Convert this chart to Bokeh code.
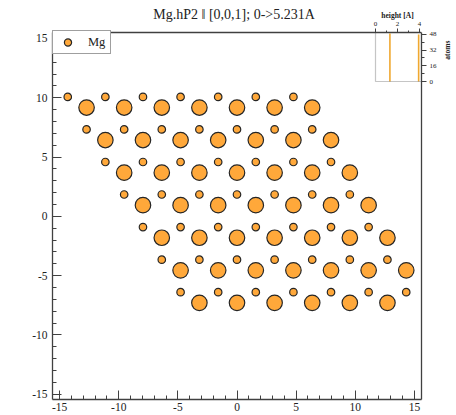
from bokeh.plotting import figure
from bokeh.models import (Range1d, LinearAxis, FixedTicker, BoxAnnotation, Label, Span,
                          Legend, LegendItem, SingleIntervalTicker, PrintfTickFormatter)
from bokeh.core.properties import value
from bokeh.embed import file_html
from bokeh.resources import INLINE

# ---------------- data ----------------
title_text = "Mg.hP2 \u2016  [0,0,1]; 0->5.231A"
element = "Mg"

# atoms at the lower height (drawn small)
low_x = [-14.31, -11.13, -7.95, -4.77, -1.59, 1.59, 4.77,
         -12.72, -9.54, -6.36, -3.18, 0.00, 3.18, 6.36,
         -11.13, -7.95, -4.77, -1.59, 1.59, 4.77, 7.95,
         -9.54, -6.36, -3.18, 0.00, 3.18, 6.36, 9.54,
         -7.95, -4.77, -1.59, 1.59, 4.77, 7.95, 11.13,
         -6.36, -3.18, 0.00, 3.18, 6.36, 9.54, 12.72,
         -4.77, -1.59, 1.59, 4.77, 7.95, 11.13, 14.31]
low_y = [10.07, 10.07, 10.07, 10.07, 10.07, 10.07, 10.07,
         7.33, 7.33, 7.33, 7.33, 7.33, 7.33, 7.33,
         4.58, 4.58, 4.58, 4.58, 4.58, 4.58, 4.58,
         1.84, 1.84, 1.84, 1.84, 1.84, 1.84, 1.84,
         -0.91, -0.91, -0.91, -0.91, -0.91, -0.91, -0.91,
         -3.66, -3.66, -3.66, -3.66, -3.66, -3.66, -3.66,
         -6.40, -6.40, -6.40, -6.40, -6.40, -6.40, -6.40]

# atoms at the upper height (drawn large)
high_x = [-12.72, -9.54, -6.36, -3.18, 0.00, 3.18, 6.36,
          -11.13, -7.95, -4.77, -1.59, 1.59, 4.77, 7.95,
          -9.54, -6.36, -3.18, 0.00, 3.18, 6.36, 9.54,
          -7.95, -4.77, -1.59, 1.59, 4.77, 7.95, 11.13,
          -6.36, -3.18, 0.00, 3.18, 6.36, 9.54, 12.72,
          -4.77, -1.59, 1.59, 4.77, 7.95, 11.13, 14.31,
          -3.18, 0.00, 3.18, 6.36, 9.54, 12.72]
high_y = [9.17, 9.17, 9.17, 9.17, 9.17, 9.17, 9.17,
          6.43, 6.43, 6.43, 6.43, 6.43, 6.43, 6.43,
          3.68, 3.68, 3.68, 3.68, 3.68, 3.68, 3.68,
          0.94, 0.94, 0.94, 0.94, 0.94, 0.94, 0.94,
          -1.81, -1.81, -1.81, -1.81, -1.81, -1.81, -1.81,
          -4.56, -4.56, -4.56, -4.56, -4.56, -4.56, -4.56,
          -7.30, -7.30, -7.30, -7.30, -7.30, -7.30]

# height histogram (inset)
layer_heights = [1.31, 3.92]
layer_counts = [49, 48]
height_ticks = [0, 2, 4]
height_tick_labels = ["0", "2", "4"]
height_minor = [1, 3]
count_ticks = [0, 16, 32, 48]
count_minor = [8, 24, 40]
height_label = "height [A]"
count_label = "atoms"

# ---------------- styling / layout ----------------
FONT = "Liberation Serif"
ORANGE = "#FFA83A"
EDGE = "#262626"
FRAME = "#404040"
LINE_ORANGE = "#F0A830"
TXT = "#222222"

# canvas pixel geometry of the reference
BOX_L, BOX_R, BOX_T, BOX_B, FRAME_T = 52, 421, 32, 399, 2
FW, FH = BOX_R - BOX_L, BOX_B - FRAME_T
X0, X1 = -15.6, 15.6          # main x range
Y0, Y1 = -15.45, 15.5         # main y range at the box bottom / top
sy = (BOX_B - BOX_T) / (Y1 - Y0)  # px per y unit
y_frame_top = Y1 + (BOX_T - FRAME_T) / sy

p = figure(frame_width=FW, frame_height=FH,
           x_range=Range1d(X0, X1), y_range=Range1d(Y0, y_frame_top),
           output_backend="svg", toolbar_location=None,
           min_border_left=BOX_L, min_border_right=456 - BOX_R,
           min_border_top=FRAME_T, min_border_bottom=415 - BOX_B,
           background_fill_color="white", border_fill_color="white")
p.grid.visible = False
p.outline_line_color = None

for ax in (p.below[0], p.left[0]):
    ax.ticker = SingleIntervalTicker(interval=5, num_minor_ticks=5)
    ax.formatter = PrintfTickFormatter(format="%d")
    ax.major_tick_in = 9
    ax.major_tick_out = 0
    ax.minor_tick_in = 4
    ax.minor_tick_out = 0
    ax.axis_line_color = FRAME
    ax.axis_line_width = 1.3
    ax.major_tick_line_color = FRAME
    ax.minor_tick_line_color = FRAME
    ax.major_label_text_font = FONT
    ax.major_label_text_font_size = "11.5px"
    ax.major_label_text_color = TXT
p.left[0].bounds = (Y0, Y1)
p.below[0].major_label_standoff = 3
p.left[0].major_label_standoff = 5

# top edge of the plot box
p.add_layout(Span(location=Y1, dimension="width", line_color=FRAME, line_width=1.3))

# atoms
r_low = p.scatter(low_x, low_y, size=7.5, fill_color=ORANGE, line_color=EDGE,
                  line_width=1.2)
r_high = p.scatter(high_x, high_y, size=15.5, fill_color=ORANGE, line_color=EDGE,
                   line_width=1.2)

LEG_H = 22
legend = Legend(items=[LegendItem(label=element, renderers=[r_low])],
                location=(0, FH - (BOX_T - FRAME_T) - LEG_H), margin=0, padding=2,
                glyph_width=25, glyph_height=18, label_height=18,
                label_standoff=8, label_text_font=FONT,
                label_text_font_size="12.5px", label_text_color=TXT,
                border_line_color=FRAME, border_line_width=1,
                background_fill_alpha=1)
p.add_layout(legend)

# title
p.add_layout(Label(x=-0.1, y=Y1 + (BOX_T - 14) / sy, text=title_text, text_font=FONT,
                   text_font_size="14px", text_align="center",
                   text_baseline="middle", text_color=TXT))

# ---------------- inset: height histogram ----------------
INS_L, INS_B = 375, 81        # inset left edge / bottom edge (canvas px)
h_end = 4.18
h_start = h_end - h_end * FW / (BOX_R - INS_L)
c_top = 50.0                  # count value at the box top
sc = (INS_B - BOX_T) / c_top  # px per count
c_start = -(BOX_B - INS_B) / sc
c_end = c_top + (BOX_T - FRAME_T) / sc
p.extra_x_ranges = {"h": Range1d(h_start, h_end)}
p.extra_y_ranges = {"c": Range1d(c_start, c_end)}

p.add_layout(BoxAnnotation(left=0, bottom=0, top=c_top, x_range_name="h",
                           y_range_name="c", fill_alpha=0, line_color=FRAME,
                           line_width=1.2))
p.segment(x0=layer_heights, y0=0, x1=layer_heights, y1=layer_counts,
          x_range_name="h", y_range_name="c", line_color=LINE_ORANGE, line_width=1.6)

# inset top axis (ticks drawn outward above the box top)
p.segment(x0=height_ticks, y0=c_top, x1=height_ticks, y1=c_top + 4 / sc,
          x_range_name="h", y_range_name="c", line_color=FRAME, line_width=1)
p.segment(x0=height_minor, y0=c_top, x1=height_minor, y1=c_top + 2 / sc,
          x_range_name="h", y_range_name="c", line_color=FRAME, line_width=1)
p.text(x=height_ticks, y=c_top + (BOX_T - 23) / sc, text=height_tick_labels,
       x_range_name="h", y_range_name="c", text_font=value(FONT),
       text_font_size="7px", text_align="center", text_baseline="middle",
       text_color=TXT)
p.add_layout(Label(x=2, y=c_top + (BOX_T - 15) / sc, x_range_name="h",
                   y_range_name="c", text=height_label, text_font=FONT,
                   text_font_size="7.5px", text_font_style="bold",
                   text_align="center", text_baseline="middle", text_color=TXT))

# inset right axis; its line also forms the right edge of the plot box
right_ax = LinearAxis(y_range_name="c", bounds=(c_start, c_top),
                      ticker=FixedTicker(ticks=count_ticks, minor_ticks=count_minor))
right_ax.major_tick_in = 0
right_ax.major_tick_out = 5
right_ax.minor_tick_in = 0
right_ax.minor_tick_out = 3
right_ax.axis_line_color = FRAME
right_ax.axis_line_width = 1.3
right_ax.major_tick_line_color = FRAME
right_ax.minor_tick_line_color = FRAME
right_ax.major_label_text_font = FONT
right_ax.major_label_text_font_size = "7px"
right_ax.major_label_text_color = TXT
right_ax.major_label_standoff = 3
p.add_layout(right_ax, "right")

p.add_layout(Label(x=17.8, y=32, y_range_name="c", text=count_label, text_font=FONT,
                   text_font_size="7.5px", text_font_style="bold", angle=1.5708,
                   text_align="center", text_baseline="middle", text_color=TXT),
             "right")

open("out.html", "w").write(file_html(p, INLINE))
